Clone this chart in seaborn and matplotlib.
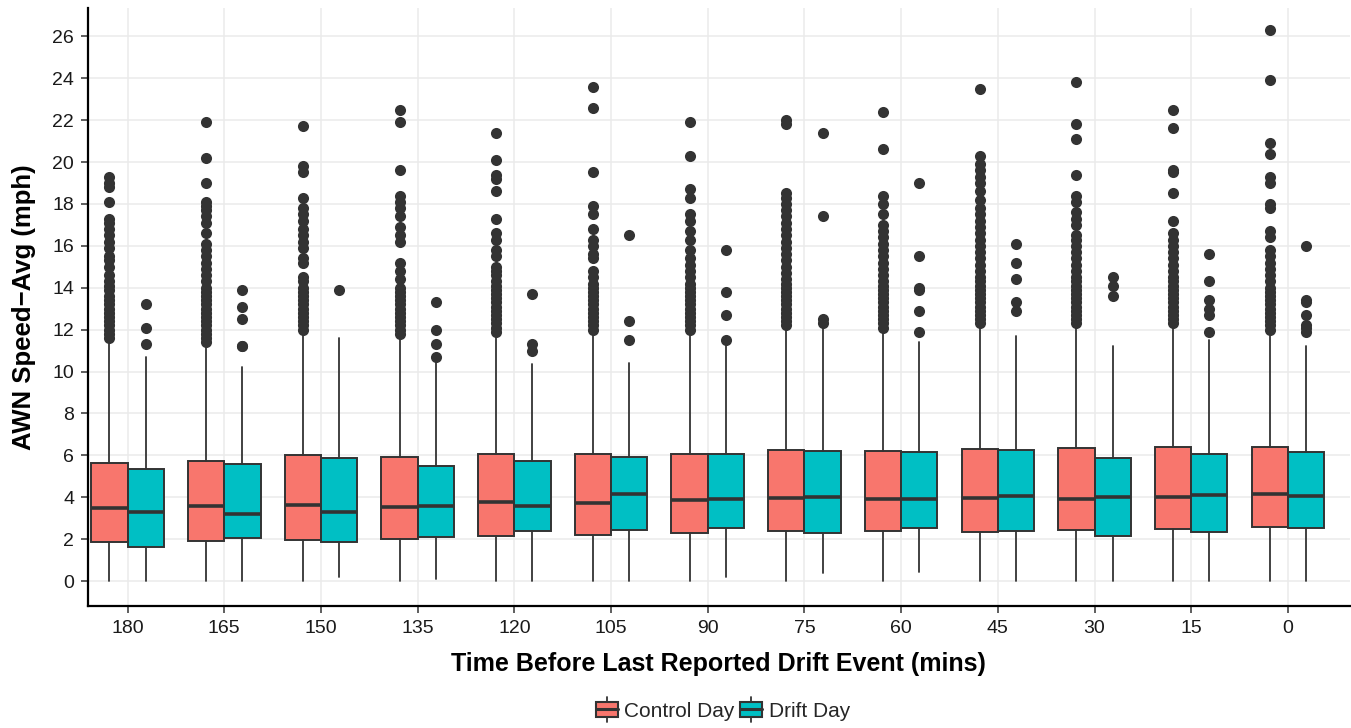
import matplotlib
matplotlib.use("Agg")
import matplotlib.pyplot as plt
from matplotlib.patches import Patch, Rectangle
from matplotlib.lines import Line2D
from matplotlib.legend_handler import HandlerBase
import seaborn as sns

# Box statistics (mph)
times = ["180", "165", "150", "135", "120", "105", "90", "75", "60", "45", "30", "15", "0"]
groups = ["Control Day", "Drift Day"]
colors = ["#F8766D", "#00BFC4"]

control_q1 = [1.88, 1.93, 1.97, 2.02, 2.15, 2.20, 2.27, 2.37, 2.37, 2.33, 2.45, 2.50, 2.60]
control_med = [3.50, 3.57, 3.62, 3.55, 3.75, 3.72, 3.85, 3.95, 3.90, 3.98, 3.92, 4.00, 4.15]
control_q3 = [5.65, 5.72, 6.00, 5.92, 6.05, 6.05, 6.08, 6.25, 6.22, 6.30, 6.35, 6.38, 6.42]
control_lo = [0, 0, 0, 0, 0, 0, 0, 0, 0, 0, 0, 0, 0]
control_hi = [11.3, 11.3, 11.9, 11.7, 11.8, 11.9, 11.8, 12.1, 11.9, 12.2, 12.2, 12.2, 11.7]

drift_q1 = [1.62, 2.05, 1.88, 2.10, 2.38, 2.45, 2.55, 2.30, 2.55, 2.40, 2.15, 2.35, 2.55]
drift_med = [3.30, 3.20, 3.30, 3.58, 3.60, 4.15, 3.90, 4.00, 3.93, 4.05, 4.00, 4.10, 4.05]
drift_q3 = [5.35, 5.60, 5.85, 5.50, 5.75, 5.90, 6.08, 6.20, 6.15, 6.25, 5.85, 6.05, 6.15]
drift_lo = [0, 0, 0.2, 0.1, 0, 0, 0.2, 0.4, 0.45, 0, 0, 0, 0]
drift_hi = [10.7, 10.2, 11.6, 10.6, 10.35, 10.4, 11.3, 12.1, 11.4, 11.7, 11.2, 11.5, 11.2]

control_out = [
    [11.6, 11.8, 12.0, 12.2, 12.4, 12.6, 12.8, 13.0, 13.2, 13.4, 13.6, 13.9, 14.1, 14.3, 14.6,
     15.0, 15.3, 15.5, 15.9, 16.2, 16.5, 16.8, 17.1, 17.3, 18.1, 18.8, 19.0, 19.3],
    [11.4, 11.6, 11.8, 12.0, 12.2, 12.4, 12.6, 12.8, 13.0, 13.2, 13.4, 13.6, 13.8, 14.0, 14.3, 14.6,
     14.9, 15.2, 15.5, 15.8, 16.1, 16.6, 17.1, 17.4, 17.7, 17.9, 18.1, 19.0, 20.2, 21.9],
    [12.0, 12.2, 12.4, 12.6, 12.8, 13.0, 13.2, 13.4, 13.6, 13.8, 14.0, 14.3, 14.5,
     15.2, 15.4, 15.9, 16.2, 16.5, 16.8, 17.2, 17.5, 17.8, 18.3, 19.5, 19.8, 21.7],
    [11.8, 12.0, 12.2, 12.4, 12.6, 12.8, 13.0, 13.2, 13.4, 13.6, 13.8, 14.0,
     14.4, 14.8, 15.2, 16.2, 16.5, 16.9, 17.4, 17.8, 18.1, 18.4, 19.6, 21.9, 22.5],
    [11.9, 12.1, 12.3, 12.5, 12.7, 12.9, 13.1, 13.3, 13.5, 13.7, 13.9, 14.1, 14.3, 14.6, 14.8, 15.0,
     15.5, 15.8, 16.3, 16.6, 17.3, 18.6, 19.2, 19.4, 20.1, 21.4],
    [12.0, 12.2, 12.4, 12.6, 12.8, 13.0, 13.2, 13.4, 13.6, 13.8, 14.0, 14.2, 14.5, 14.8,
     15.4, 15.6, 16.0, 16.3, 16.8, 17.5, 17.9, 19.5, 22.6, 23.6],
    [12.0, 12.2, 12.4, 12.6, 12.8, 13.0, 13.2, 13.4, 13.6, 13.8, 14.0, 14.2, 14.5, 14.8, 15.1, 15.4,
     15.8, 16.3, 16.7, 17.2, 17.5, 18.3, 18.7, 20.3, 21.9],
    [12.2, 12.4, 12.6, 12.8, 13.0, 13.2, 13.4, 13.6, 13.8, 14.0, 14.2, 14.4, 14.7, 15.0, 15.3, 15.6,
     15.9, 16.2, 16.5, 16.8, 17.1, 17.4, 17.7, 18.0, 18.3, 18.5, 21.8, 22.0],
    [12.1, 12.3, 12.5, 12.7, 12.9, 13.1, 13.3, 13.5, 13.7, 13.9, 14.1, 14.3, 14.6, 14.9, 15.2, 15.5,
     15.8, 16.1, 16.4, 16.7, 17.0, 17.5, 18.0, 18.4, 20.6, 22.4],
    [12.3, 12.5, 12.7, 12.9, 13.1, 13.3, 13.5, 13.7, 13.9, 14.1, 14.3, 14.5, 14.8, 15.1, 15.4, 15.7,
     16.0, 16.3, 16.6, 16.9, 17.2, 17.5, 17.8, 18.2, 18.6, 19.0, 19.3, 19.6, 19.9, 20.3, 23.5],
    [12.3, 12.5, 12.7, 12.9, 13.1, 13.3, 13.5, 13.7, 13.9, 14.1, 14.3, 14.5, 14.8, 15.1, 15.4, 15.7,
     16.0, 16.3, 16.5, 17.0, 17.3, 17.6, 18.1, 18.4, 19.4, 21.1, 21.8, 23.8],
    [12.3, 12.5, 12.7, 12.9, 13.1, 13.3, 13.5, 13.7, 13.9, 14.1, 14.3, 14.5, 14.8, 15.1, 15.4, 15.7,
     16.0, 16.3, 16.6, 17.2, 18.5, 19.5, 19.6, 21.6, 22.5],
    [12.0, 12.2, 12.4, 12.6, 12.8, 13.0, 13.2, 13.4, 13.6, 13.8, 14.0, 14.3, 14.6, 14.9, 15.2, 15.5,
     15.8, 16.4, 16.7, 17.8, 18.0, 19.0, 19.3, 20.4, 20.9, 23.9, 26.3],
]

drift_out = [
    [11.3, 12.1, 13.2],
    [11.2, 11.2, 12.5, 13.1, 13.9],
    [13.9],
    [10.7, 11.3, 12.0, 13.3],
    [11.0, 11.3, 13.7],
    [11.5, 12.4, 16.5],
    [11.5, 12.7, 13.8, 15.8],
    [12.3, 12.5, 17.4, 21.4],
    [11.9, 12.9, 13.9, 14.0, 15.5, 19.0],
    [12.9, 13.3, 14.4, 15.2, 16.1],
    [13.6, 14.1, 14.5],
    [11.9, 12.7, 13.0, 13.4, 14.3, 15.6],
    [11.9, 12.1, 12.2, 12.7, 13.3, 13.4, 16.0],
]

edge = "#333333"


def make_stats(q1, med, q3, lo, hi, out):
    return [dict(q1=a, med=b, q3=c, whislo=d, whishi=e, fliers=f)
            for a, b, c, d, e, f in zip(q1, med, q3, lo, hi, out)]


# legend key drawn like ggplot's boxplot key
class BoxKey(HandlerBase):
    def create_artists(self, legend, orig_handle, xdescent, ydescent, width, height, fontsize, trans):
        x0, y0 = -xdescent, -ydescent
        cx = x0 + width / 2
        box = Rectangle((x0, y0), width, height,
                        facecolor=orig_handle.get_facecolor(), edgecolor=edge, linewidth=1.5, transform=trans)
        med = Line2D([x0, x0 + width], [y0 + height / 2] * 2, color=edge, linewidth=2.2, transform=trans)
        w1 = Line2D([cx, cx], [y0 - 0.3 * height, y0], color=edge, linewidth=1.3, transform=trans)
        w2 = Line2D([cx, cx], [y0 + height, y0 + 1.3 * height], color=edge, linewidth=1.3, transform=trans)
        return [w1, w2, box, med]


control_stats = make_stats(control_q1, control_med, control_q3, control_lo, control_hi, control_out)
drift_stats = make_stats(drift_q1, drift_med, drift_q3, drift_lo, drift_hi, drift_out)

sns.set_theme(style="whitegrid")
plt.rcParams["font.family"] = ["Liberation Sans", "DejaVu Sans"]

fig = plt.figure(figsize=(13.51, 7.28), dpi=100)
ax = fig.add_axes([0.0651, 0.1676, 0.934, 0.8214])

dodge = 0.1875
width = 0.375
for stats, offset, color in [(control_stats, -dodge, colors[0]), (drift_stats, dodge, colors[1])]:
    pos = [i + offset for i in range(len(times))]
    ax.bxp(stats, positions=pos, widths=width, patch_artist=True, showcaps=False,
           boxprops=dict(facecolor=color, edgecolor=edge, linewidth=1.4),
           medianprops=dict(color=edge, linewidth=2.6, solid_capstyle="butt"),
           whiskerprops=dict(color=edge, linewidth=1.3),
           flierprops=dict(marker="o", markersize=8, markerfacecolor=edge,
                           markeredgecolor=edge, markeredgewidth=0), manage_ticks=False)

ax.set_xticks(range(len(times)))
ax.set_xticklabels(times)
ax.set_yticks(range(0, 27, 2))
ax.set_xlim(-0.41, 12.64)
ax.set_ylim(-1.19, 27.35)

ax.grid(True, color="#EBEBEB", linewidth=1.1)
ax.set_axisbelow(True)
ax.set_facecolor("white")
sns.despine(ax=ax)
for side in ["left", "bottom"]:
    ax.spines[side].set_color("black")
    ax.spines[side].set_linewidth(1.6)
ax.tick_params(axis="both", which="major", length=5, width=1.1, color="#333333",
               labelsize=14, labelcolor="#1a1a1a", left=True, bottom=True, pad=5)

ax.set_xlabel("Time Before Last Reported Drift Event (mins)", fontsize=18, fontweight="bold",
              color="black", labelpad=11)
ax.set_ylabel("AWN Speed\u2212Avg (mph)", fontsize=18.5, fontweight="bold", color="black", labelpad=12)

handles = [Patch(facecolor=c, edgecolor=edge, label=g) for g, c in zip(groups, colors)]
fig.legend(handles=handles, handler_map={Patch: BoxKey()}, loc="center", bbox_to_anchor=(0.535, 0.023),
           ncol=2, frameon=False, fontsize=15, handlelength=1.05, handleheight=0.75,
           handletextpad=0.3, columnspacing=0.3)

fig.savefig("out.png", dpi=100)
